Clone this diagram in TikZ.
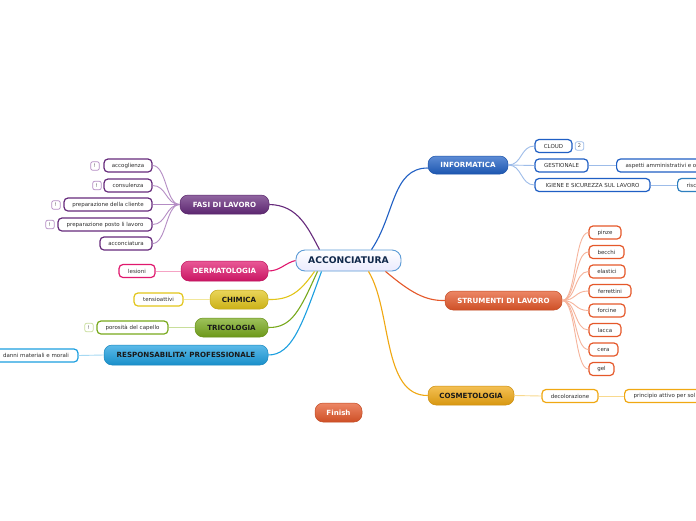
\documentclass[tikz,border=0pt]{standalone}
\usepackage{fontspec}
\setmainfont{DejaVu Sans}
\definecolor{purp}{HTML}{662A7C}
\definecolor{purpL}{HTML}{B48CC4}
\definecolor{pinkc}{HTML}{E0186E}
\definecolor{pinkL}{HTML}{F5A3C4}
\definecolor{yel}{HTML}{E2C51A}
\definecolor{yelL}{HTML}{F2E79A}
\definecolor{grn}{HTML}{78A91C}
\definecolor{grnL}{HTML}{C8DE9A}
\definecolor{lblu}{HTML}{1C9FE0}
\definecolor{lbluL}{HTML}{A6D9F3}
\definecolor{blu}{HTML}{1F5FC4}
\definecolor{bluL}{HTML}{9DBCE9}
\definecolor{ora}{HTML}{E5582A}
\definecolor{oraL}{HTML}{F6B49C}
\definecolor{gol}{HTML}{F0A812}
\definecolor{golL}{HTML}{F8D98E}
\definecolor{teal}{HTML}{2E7FBF}
\definecolor{navy}{HTML}{10284A}
\definecolor{rootb}{HTML}{5C9BD6}
\tikzset{
  rootbox/.style={rounded corners=9pt, draw=rootb, line width=0.9pt, top color=white, bottom color=black!6!blue!8!white,
    inner sep=0pt, font=\fontsize{9.2}{10}\selectfont\bfseries, text=navy},
  topic/.style={rounded corners=8pt, minimum height=19pt, inner sep=0pt, font=\fontsize{7.1}{8}\selectfont\bfseries,
    text=white, draw=#1!85!black, line width=0.5pt, top color=#1!72!white, bottom color=#1!90!black},
  darktext/.style={text=black!90},
  sub/.style={rounded corners=4pt, draw=#1, line width=1.2pt, fill=white, minimum height=13pt, inner sep=0pt,
    font=\fontsize{5.5}{6}\selectfont, text=black!82},
  badge/.style={rounded corners=2pt, draw=#1, line width=0.7pt, fill=white, minimum width=8.5pt, minimum height=8.5pt,
    inner sep=0pt, font=\fontsize{5}{5}\selectfont, text=black!70},
  mc/.style={draw=#1, line width=1.1pt},
  sc/.style={draw=#1, line width=0.9pt},
}
\begin{document}
\begin{tikzpicture}[x=1pt,y=-1pt]
\useasboundingbox (0,0) rectangle (696,520);
\clip (0,0) rectangle (696,520);
\fill[white] (0,0) rectangle (696,520);

% main topics
\node[rootbox, minimum width=105pt, minimum height=21pt] (root) at (348.5,260.5) {ACCONCIATURA};
\node[topic=purp, minimum width=89pt] (fasi) at (224.5,204.5) {FASI DI LAVORO};
\node[topic=pinkc, minimum width=87pt, minimum height=20pt] (derm) at (224.5,271) {DERMATOLOGIA};
\node[topic=yel, darktext, minimum width=58pt] (chim) at (239,299.5) {CHIMICA};
\node[topic=grn, darktext, minimum width=73pt] (tri) at (231.5,327.5) {TRICOLOGIA};
\node[topic=lblu, darktext, minimum width=164pt, minimum height=20pt] (resp) at (186,355) {RESPONSABILITA' PROFESSIONALE};
\node[topic=blu, minimum width=80pt, minimum height=18pt] (inf) at (468,165) {INFORMATICA};
\node[topic=ora, minimum width=117pt] (strum) at (503.5,300.5) {STRUMENTI DI LAVORO};
\node[topic=gol, darktext, minimum width=86pt] (cosm) at (471,395.5) {COSMETOLOGIA};
\node[topic=ora, minimum width=47pt] (finish) at (338.5,412.5) {Finish};

% connectors from root
\draw[mc=purp] ([xshift=-29pt]root.north) .. controls (308,228) and (298,205) .. (fasi.east);
\draw[mc=pinkc] (root.west) .. controls (285,263) and (280,271) .. (derm.east);
\draw[mc=yel] ([xshift=-34pt]root.south) .. controls (300,292) and (290,300) .. (chim.east);
\draw[mc=grn] ([xshift=-31pt]root.south) .. controls (300,310) and (292,328) .. (tri.east);
\draw[mc=lblu] ([xshift=-27pt]root.south) .. controls (302,325) and (292,355) .. (resp.east);
\draw[mc=blu] ([xshift=23pt]root.north) .. controls (395,215) and (392,168) .. ([yshift=-3pt]inf.west);
\draw[mc=ora] ([xshift=37pt]root.south) .. controls (410,292) and (425,301) .. (strum.west);
\draw[mc=gol] ([xshift=20pt]root.south) .. controls (392,310) and (382,396) .. (cosm.west);

% FASI DI LAVORO subs
\node[sub=purp, minimum width=48pt] (acc) at (128,165.5) {accoglienza};
\node[sub=purp, minimum width=48pt] (cons) at (128,185.5) {consulenza};
\node[sub=purp, minimum width=88pt] (pcli) at (108,204.5) {preparazione della cliente};
\node[sub=purp, minimum width=94pt] (ppos) at (105,224.5) {preparazione posto li lavoro};
\node[sub=purp, minimum width=52pt] (accon) at (126,243.5) {acconciatura};
\node[badge=purpL] (b1) at (95,166) {!};
\node[badge=purpL] (b2) at (97,185.5) {!};
\node[badge=purpL] (b3) at (56,205) {!};
\node[badge=purpL] (b4) at (50,224.5) {!};
\foreach \n in {acc,cons,pcli,ppos,accon}
  \draw[sc=purpL] (fasi.west) .. controls +(-14,0) and ([xshift=14pt]\n.east) .. (\n.east);

% other left subs
\node[sub=pinkc, minimum width=36pt] (les) at (137,271) {lesioni};
\draw[sc=pinkL] (derm.west) -- (les.east);
\node[sub=yel, minimum width=49pt] (tens) at (158.5,299.5) {tensioattivi};
\draw[sc=yelL] (chim.west) -- (tens.east);
\node[sub=grn, minimum width=71pt] (poro) at (132.5,327.5) {porosità del capello};
\node[badge=grnL] (b5) at (89,327.5) {!};
\draw[sc=grnL] (tri.west) -- (poro.east);
\node[sub=lblu, minimum width=84pt] (danni) at (36,355.5) {danni materiali e morali};
\draw[sc=lbluL] (resp.west) -- (danni.east);

% INFORMATICA subs
\node[sub=blu, minimum width=37pt] (cloud) at (553.5,146) {CLOUD};
\node[badge=bluL] (b6) at (579.5,146) {2};
\node[sub=blu, minimum width=53pt] (gest) at (561.5,165.5) {GESTIONALE};
\node[sub=blu, minimum width=115pt] (igi) at (592.5,185) {IGIENE E SICUREZZA SUL LAVORO};
\node[sub=blu, anchor=west, inner xsep=9pt] (asp) at (616,165.5) {\makebox[110pt][l]{aspetti amministrativi e o}};
\node[sub=teal, anchor=west, inner xsep=9pt] (risc) at (677,185) {\makebox[40pt][l]{risc}};
\foreach \n in {cloud,gest,igi}
  \draw[sc=bluL] (inf.east) .. controls +(14,0) and ([xshift=-14pt]\n.west) .. (\n.west);
\draw[sc=bluL] (gest.east) -- (asp.west);
\draw[sc=bluL] (igi.east) -- (risc.west);

% STRUMENTI subs
\node[sub=ora, minimum width=32pt] (s1) at (605,232.5) {pinze};
\node[sub=ora, minimum width=35pt] (s2) at (606.5,252) {becchi};
\node[sub=ora, minimum width=36pt] (s3) at (607,271.5) {elastici};
\node[sub=ora, minimum width=42pt] (s4) at (610,291) {ferrettini};
\node[sub=ora, minimum width=36pt] (s5) at (607,310.5) {forcine};
\node[sub=ora, minimum width=32pt] (s6) at (605,330) {lacca};
\node[sub=ora, minimum width=29pt] (s7) at (603.5,349.5) {cera};
\node[sub=ora, minimum width=25pt] (s8) at (601.5,369) {gel};
\foreach \n in {s1,s2,s3,s4,s5,s6,s7,s8}
  \draw[sc=oraL] (strum.east) .. controls +(14,0) and ([xshift=-14pt]\n.west) .. (\n.west);

% COSMETOLOGIA subs
\node[sub=gol, minimum width=56pt] (deco) at (570,396) {decolorazione};
\node[sub=gol, anchor=west, inner xsep=9pt] (princ) at (624,396) {\makebox[90pt][l]{principio attivo per sol}};
\draw[sc=golL] (cosm.east) -- (deco.west);
\draw[sc=golL] (deco.east) -- (princ.west);
\end{tikzpicture}
\end{document}
